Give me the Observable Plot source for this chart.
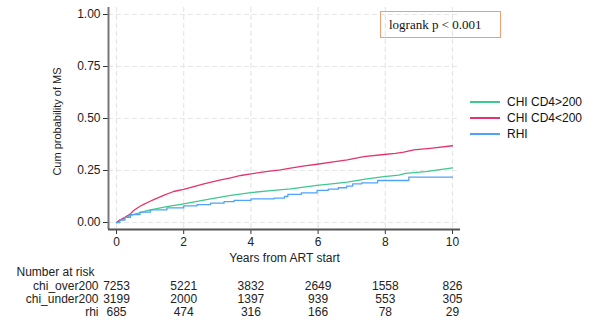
<!DOCTYPE html>
<html>
<head>
<meta charset="utf-8">
<script src="https://cdn.jsdelivr.net/npm/d3@7"></script>
<script src="https://cdn.jsdelivr.net/npm/@observablehq/plot@0.6"></script>
<style>
  body { margin: 0; background: #fff; }
  #wrap { position: relative; width: 600px; height: 325px; font-family: "Liberation Sans", Arial, sans-serif; }
  #logrank { position: absolute; left: 380px; top: 11px; width: 119px; height: 25px; border: 1.5px solid #f0a070;
             font-family: "Liberation Serif", "Times New Roman", serif; font-size: 13px; color: #111; }
  #logrank span { position: absolute; left: 8px; top: 5px; white-space: nowrap; }
  #legend { position: absolute; left: 470px; top: 94px; width: 128px; white-space: nowrap; font-size: 12px; color: #111; }
  .row { height: 16px; position: relative; }
  .row .sw { position: absolute; left: 0; top: 7px; width: 30px; height: 2px; }
  .row span { position: absolute; left: 37px; top: 1px; }
</style>
</head>
<body>
<div id="wrap"></div>
<script>
// ---- data ----
const seriesNames = ["CHI CD4>200", "CHI CD4<200", "RHI"];
const seriesColors = ["#3ec98e", "#e5336c", "#4fa3ff"];
const pText = "logrank p < 0.001";

const over200T = [0, 0.1, 0.42, 0.7, 1.01, 1.5, 2.0, 2.8, 3.4, 4.0, 4.6, 5.18, 5.97, 6.4, 6.87, 7.4, 7.96, 8.4, 8.6, 9.2, 10];
const over200P = [0, 0.01, 0.034, 0.048, 0.061, 0.076, 0.090, 0.114, 0.130, 0.144, 0.153, 0.162, 0.178, 0.186, 0.194, 0.208, 0.221, 0.228, 0.236, 0.245, 0.263];

const under200T = [0, 0.1, 0.25, 0.42, 0.51, 0.7, 0.81, 1.0, 1.11, 1.4, 1.7, 2.0, 2.3, 2.6, 3.1, 3.4, 3.7, 4.0, 4.5, 4.88, 5.18, 5.6, 5.97, 6.4, 6.87, 7.36, 7.96, 8.3, 8.55, 8.85, 9.4, 10];
const under200P = [0, 0.012, 0.025, 0.042, 0.058, 0.078, 0.087, 0.102, 0.110, 0.130, 0.149, 0.159, 0.172, 0.186, 0.205, 0.215, 0.226, 0.234, 0.246, 0.253, 0.261, 0.272, 0.280, 0.290, 0.301, 0.317, 0.327, 0.332, 0.338, 0.349, 0.358, 0.369];

const rhiT = [0, 0.1, 0.25, 0.42, 0.7, 1.01, 1.5, 2.0, 2.4, 2.8, 3.2, 3.5, 4.0, 4.69, 5.0, 5.1, 5.5, 5.97, 6.3, 6.6, 6.85, 7.03, 7.3, 7.77, 8.7, 10];
const rhiP = [0, 0.012, 0.025, 0.038, 0.050, 0.061, 0.070, 0.080, 0.086, 0.093, 0.100, 0.106, 0.114, 0.117, 0.125, 0.135, 0.142, 0.154, 0.160, 0.167, 0.175, 0.186, 0.190, 0.202, 0.218, 0.218];

const riskTimes = [0, 2, 4, 6, 8, 10];
const riskLabels = ["chi_over200", "chi_under200", "rhi"];
const riskOver200 = [7253, 5221, 3832, 2649, 1558, 826];
const riskUnder200 = [3199, 2000, 1397, 939, 553, 305];
const riskRhi = [685, 474, 316, 166, 78, 29];

const xTicks = [0, 2, 4, 6, 8, 10];
const yTicks = [0, 0.25, 0.5, 0.75, 1];

// ---- build tables ----
const toRows = (T, P, s) => T.map((t, i) => ({t, p: P[i], s}));
const over = toRows(over200T, over200P, seriesNames[0]);
const under = toRows(under200T, under200P, seriesNames[1]);
const rhi = toRows(rhiT, rhiP, seriesNames[2]);
const riskRows = [riskOver200, riskUnder200, riskRhi];

const xMin = -0.238, xMax = 10.238, yMin = -0.0337, yMax = 1.0337;
const rowDy = [57, 70, 83];
const txt = {fontSize: 12, fill: "#222", lineAnchor: "middle"};

const riskMarks = riskRows.flatMap((r, k) => [
  Plot.text([riskLabels[k]], {...txt, frameAnchor: "bottom-left", dx: -10, dy: rowDy[k], textAnchor: "end"}),
  Plot.text(r.map((n, i) => ({t: riskTimes[i], n})), {...txt, x: "t", text: d => String(d.n), frameAnchor: "bottom", dy: rowDy[k], textAnchor: "middle"})
]);

const chart = Plot.plot({
  width: 600, height: 325,
  marginLeft: 108, marginRight: 140, marginTop: 7, marginBottom: 96,
  style: {fontFamily: "'Liberation Sans', Arial, sans-serif", fontSize: "12px", color: "#222", background: "#fff", overflow: "visible"},
  x: {domain: [xMin, xMax], axis: null},
  y: {domain: [yMin, yMax], axis: null},
  color: {domain: seriesNames, range: seriesColors},
  marks: [
    Plot.ruleY(yTicks, {stroke: "#e6e6e6", strokeWidth: 1.2, strokeDasharray: "5,3"}),
    Plot.ruleX(xTicks, {stroke: "#e6e6e6", strokeWidth: 1.2, strokeDasharray: "5,3"}),
    Plot.line(over, {x: "t", y: "p", stroke: d => d.s, strokeWidth: 1.3}),
    Plot.line(under, {x: "t", y: "p", stroke: d => d.s, strokeWidth: 1.3}),
    Plot.line(rhi, {x: "t", y: "p", stroke: d => d.s, strokeWidth: 1.3, curve: "step-after"}),
    Plot.axisY({ticks: yTicks, tickFormat: d3.format(".2f"), tickSize: 5, tickPadding: 3, label: null, stroke: "#333", fontSize: 12}),
    Plot.axisX({ticks: xTicks, tickFormat: d => String(d), tickSize: 5, tickPadding: 3, label: null, stroke: "#333", fontSize: 12}),
    Plot.ruleX([xMin], {stroke: "#777", strokeWidth: 2}),
    Plot.ruleY([yMin], {stroke: "#555", strokeWidth: 2}),
    Plot.text(["Cum probability of MS"], {...txt, frameAnchor: "left", rotate: -90, dx: -51, dy: 3, fontSize: 11, textAnchor: "middle"}),
    Plot.text(["Years from ART start"], {...txt, frameAnchor: "bottom", dy: 29, textAnchor: "middle"}),
    Plot.text(["Number at risk"], {...txt, frameAnchor: "bottom-left", dx: -92, dy: 43, textAnchor: "start"}),
    ...riskMarks
  ]
});
const wrap = document.getElementById("wrap");
wrap.appendChild(chart);

// logrank annotation
const box = document.createElement("div");
box.id = "logrank";
const bs = document.createElement("span");
bs.textContent = pText;
box.appendChild(bs);
wrap.appendChild(box);

// legend
const leg = document.createElement("div");
leg.id = "legend";
seriesNames.forEach((s, i) => {
  const row = document.createElement("div");
  row.className = "row";
  const ln = document.createElement("div");
  ln.className = "sw";
  ln.style.background = seriesColors[i];
  const sp = document.createElement("span");
  sp.textContent = s;
  row.appendChild(ln); row.appendChild(sp);
  leg.appendChild(row);
});
wrap.appendChild(leg);
</script>
</body>
</html>
